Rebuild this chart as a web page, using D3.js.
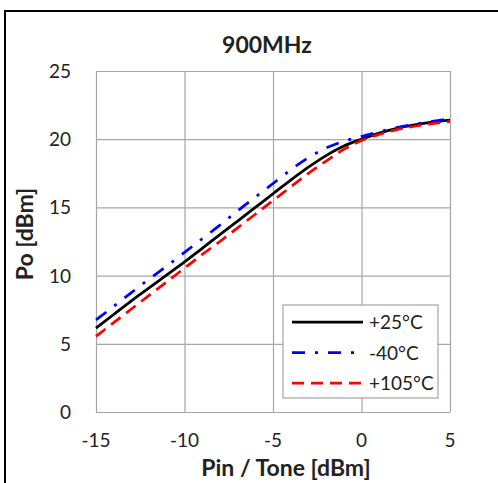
<!DOCTYPE html>
<html lang="en">
  <head>
    <meta charset="UTF-8" />
    <title>900MHz Po vs Pin</title>
    <script src="https://d3js.org/d3.v7.min.js"></script>
    <style>
      body { margin: 0; background: #fff; }
      text { font-family: Lato, "Open Sans", sans-serif; fill: #222; }
    </style>
  </head>
  <body>
    <div id="chart"></div>
    <script>
      // data
      const pin = [-15, -14, -13, -12, -11, -10, -9, -8, -7, -6, -5, -4, -3, -2, -1, 0, 1, 2, 3, 4, 5];
      const po25 = [6.15, 7.15, 8.15, 9.1, 10.05, 11.0, 12.0, 13.0, 14.0, 15.0, 16.0, 17.0, 17.95, 18.8, 19.5, 20.0, 20.45, 20.8, 21.05, 21.25, 21.4];
      const poM40 = [6.75, 7.75, 8.75, 9.75, 10.7, 11.7, 12.7, 13.7, 14.75, 15.75, 16.75, 17.75, 18.65, 19.35, 19.85, 20.2, 20.55, 20.85, 21.1, 21.3, 21.5];
      const po105 = [5.55, 6.55, 7.55, 8.55, 9.55, 10.55, 11.55, 12.5, 13.5, 14.5, 15.5, 16.5, 17.5, 18.4, 19.25, 19.9, 20.35, 20.7, 20.95, 21.15, 21.3];
      const seriesNames = ["+25°C", "-40°C", "+105°C"];
      const xTicks = [-15, -10, -5, 0, 5];
      const yTicks = [0, 5, 10, 15, 20, 25];

      const series = [
        { name: seriesNames[0], values: po25, color: "#000000", dash: null },
        { name: seriesNames[1], values: poM40, color: "#0000ff", dash: "13,10,3,10" },
        { name: seriesNames[2], values: po105, color: "#ff0000", dash: "12,7" },
      ];

      const W = 498, H = 483;
      const plot = { left: 96, right: 450, top: 71, bottom: 412 };

      const svg = d3.select("#chart").append("svg")
        .attr("width", W).attr("height", H);

      // outer frame (runs off the right and bottom edges)
      svg.append("rect")
        .attr("x", 5).attr("y", 11)
        .attr("width", 600).attr("height", 600)
        .attr("fill", "#fff").attr("stroke", "#000").attr("stroke-width", 2);

      const x = d3.scaleLinear().domain([-15, 5]).range([plot.left, plot.right]);
      const y = d3.scaleLinear().domain([0, 25]).range([plot.bottom, plot.top]);

      const grid = "#a6a6a6";

      // gridlines
      svg.append("g")
        .attr("transform", `translate(0,${plot.bottom})`)
        .call(d3.axisBottom(x).tickValues(xTicks).tickSize(-(plot.bottom - plot.top)).tickFormat(""))
        .call((g) => g.select(".domain").remove())
        .call((g) => g.selectAll("line").attr("stroke", grid).attr("stroke-width", 1.2));
      svg.append("g")
        .attr("transform", `translate(${plot.left},0)`)
        .call(d3.axisLeft(y).tickValues(yTicks).tickSize(-(plot.right - plot.left)).tickFormat(""))
        .call((g) => g.select(".domain").remove())
        .call((g) => g.selectAll("line").attr("stroke", grid).attr("stroke-width", 1.2));

      // tick labels
      svg.append("g").selectAll("text").data(xTicks).join("text")
        .attr("x", (d) => x(d)).attr("y", 447)
        .attr("text-anchor", "middle").style("font-size", "19px")
        .text((d) => d);
      svg.append("g").selectAll("text").data(yTicks).join("text")
        .attr("x", 71).attr("y", (d) => y(d) + 7)
        .attr("text-anchor", "end").style("font-size", "19px")
        .text((d) => d);

      // lines
      const line = d3.line().x((d, i) => x(pin[i])).y((d) => y(d)).curve(d3.curveMonotoneX);
      svg.append("g").selectAll("path").data(series).join("path")
        .attr("fill", "none")
        .attr("stroke", (d) => d.color)
        .attr("stroke-width", 2.75)
        .attr("stroke-dasharray", (d) => d.dash)
        .attr("d", (d) => line(d.values));

      // titles
      svg.append("text").attr("x", 267).attr("y", 53)
        .attr("text-anchor", "middle").style("font-size", "23px").style("font-weight", "bold")
        .text("900MHz");
      svg.append("text").attr("x", 286).attr("y", 476)
        .attr("text-anchor", "middle").style("font-size", "23px").style("font-weight", "bold")
        .text("Pin / Tone [dBm]");
      svg.append("text")
        .attr("transform", "translate(33,234) rotate(-90)")
        .attr("text-anchor", "middle").style("font-size", "23px").style("font-weight", "bold")
        .text("Po [dBm]");

      // legend
      const leg = svg.append("g");
      leg.append("rect")
        .attr("x", 283).attr("y", 305).attr("width", 155).attr("height", 93)
        .attr("fill", "#fff").attr("stroke", grid).attr("stroke-width", 1.2);
      const rows = leg.selectAll("g").data(series).join("g")
        .attr("transform", (d, i) => `translate(0,${322 + i * 30.5})`);
      rows.append("line")
        .attr("x1", 292).attr("x2", 363)
        .attr("stroke", (d) => d.color).attr("stroke-width", 2.75)
        .attr("stroke-dasharray", (d) => d.dash);
      rows.append("text")
        .attr("x", 369).attr("y", 7).style("font-size", "19px")
        .text((d) => d.name);
    </script>
  </body>
</html>
